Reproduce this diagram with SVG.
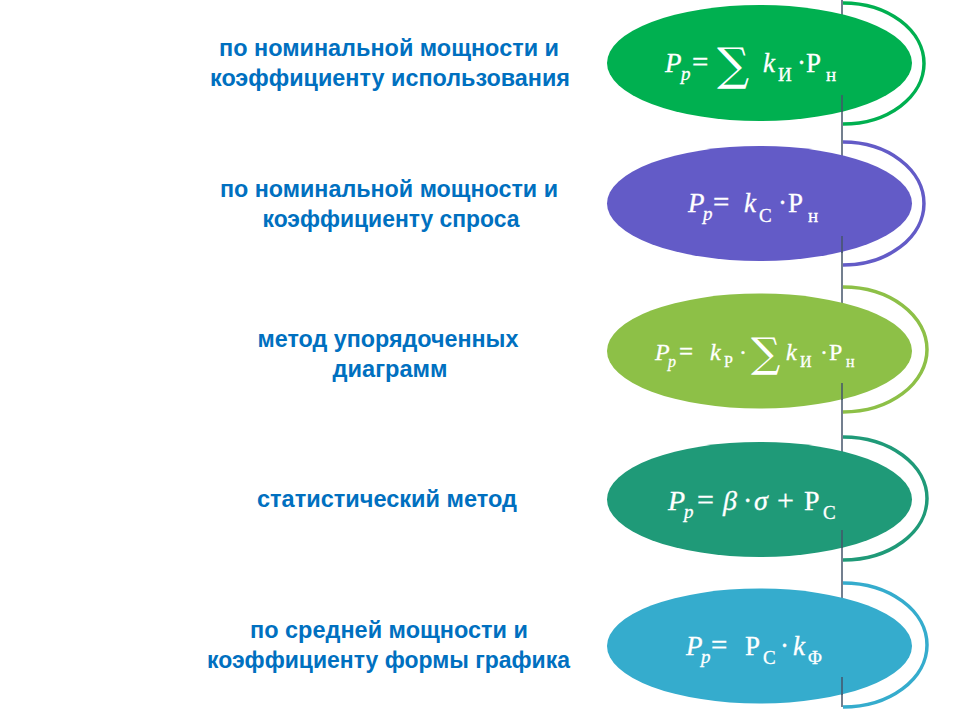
<svg xmlns="http://www.w3.org/2000/svg" width="960" height="720" viewBox="0 0 960 720">
<style>
.lbl{font-family:"Liberation Sans","DejaVu Sans",sans-serif;font-weight:bold;font-size:23px;fill:#0070C0;text-anchor:middle}
.f{font-family:"Liberation Serif","DejaVu Serif",serif;fill:#FFFFFF;stroke:#FFFFFF;stroke-width:0.3;font-size:27px}
.i{font-style:italic}
.s{font-size:19px}
.sum{font-family:"DejaVu Serif","Liberation Serif",serif;fill:#FFFFFF}
.arc{fill:none;stroke-width:3.5}
.ln{stroke:#44546A;stroke-width:1.5}
</style>
<rect width="960" height="720" fill="#FFFFFF"/>

<g id="connectors">
<line class="ln" x1="842" y1="0" x2="842" y2="707"/>
</g>

<g id="node1">
<path class="arc" stroke="#00B050" d="M843 3 A81 60.5 0 0 1 843 124"/>
<ellipse cx="759.5" cy="63" rx="152.5" ry="58" fill="#00B050"/>
<text class="lbl" x="389" y="56" textLength="340" lengthAdjust="spacingAndGlyphs">по номинальной мощности и</text>
<text class="lbl" x="390" y="86" textLength="360" lengthAdjust="spacingAndGlyphs">коэффициенту использования</text>
<text class="f"><tspan class="i" x="665" y="72">P</tspan><tspan class="i s" x="681" y="80">p</tspan><tspan x="692" y="72" font-size="29">=</tspan><tspan class="i" x="763" y="72">k</tspan><tspan class="s" x="778" y="81">И</tspan><tspan x="797" y="72">·</tspan><tspan x="806" y="72">Р</tspan><tspan class="s" x="826" y="81">н</tspan></text>
<text class="sum" x="717" y="80" font-size="45">∑</text>
</g>

<g id="node2">
<path class="arc" stroke="#635BC7" d="M843 142 A81 61.5 0 0 1 843 265"/>
<ellipse cx="759.5" cy="203.5" rx="152.5" ry="57.5" fill="#635BC7"/>
<text class="lbl" x="389" y="196.5" textLength="338" lengthAdjust="spacingAndGlyphs">по номинальной мощности и</text>
<text class="lbl" x="391" y="226.5" textLength="257" lengthAdjust="spacingAndGlyphs">коэффициенту спроса</text>
<text class="f"><tspan class="i" x="688" y="212">P</tspan><tspan class="i s" x="703" y="220">p</tspan><tspan x="713" y="212" font-size="29">=</tspan><tspan class="i" x="744" y="212">k</tspan><tspan class="s" x="759" y="221.5">С</tspan><tspan x="778" y="212">·</tspan><tspan x="788" y="212">Р</tspan><tspan class="s" x="808" y="221.5">н</tspan></text>
</g>

<g id="node3">
<path class="arc" stroke="#8DC047" d="M843 287 A84 62.5 0 0 1 843 412"/>
<ellipse cx="759.5" cy="351" rx="152.5" ry="57.5" fill="#8DC047"/>
<text class="lbl" x="388" y="346.5" textLength="261" lengthAdjust="spacingAndGlyphs">метод упорядоченных</text>
<text class="lbl" x="390" y="376.5" textLength="115" lengthAdjust="spacingAndGlyphs">диаграмм</text>
<text class="f" font-size="24"><tspan class="i" x="655" y="360" font-size="24">P</tspan><tspan class="i" x="668" y="367" font-size="16">p</tspan><tspan x="679" y="360" font-size="25">=</tspan><tspan class="i" x="710" y="360" font-size="24">k</tspan><tspan x="724" y="367" font-size="16">Р</tspan><tspan x="739" y="360" font-size="24">·</tspan><tspan class="i" x="786" y="360" font-size="24">k</tspan><tspan x="800" y="367" font-size="16">И</tspan><tspan x="820" y="360" font-size="24">·</tspan><tspan x="829" y="360" font-size="24">Р</tspan><tspan x="846" y="367" font-size="16">н</tspan></text>
<text class="sum" x="751" y="367" font-size="41">∑</text>
</g>

<g id="node4">
<path class="arc" stroke="#1F9A78" d="M843 437 A84 61.5 0 0 1 843 560"/>
<ellipse cx="759.5" cy="499.5" rx="152.5" ry="57.5" fill="#1F9A78"/>
<text class="lbl" x="387" y="507" textLength="260" lengthAdjust="spacingAndGlyphs">статистический метод</text>
<text class="f" font-size="28"><tspan class="i" x="668" y="510" font-size="28">P</tspan><tspan class="i s" x="684" y="518">p</tspan><tspan x="697" y="510" font-size="30">=</tspan><tspan class="i" x="723" y="510" font-size="28">β</tspan><tspan x="743" y="510" font-size="28">·</tspan><tspan class="i" x="754" y="510" font-size="28">σ</tspan><tspan x="777" y="510" font-size="30">+</tspan><tspan x="804" y="510" font-size="28">Р</tspan><tspan class="s" x="823" y="519">С</tspan></text>
</g>

<g id="node5">
<path class="arc" stroke="#35ACCD" d="M843 583 A84 62 0 0 1 843 707"/>
<ellipse cx="759.5" cy="646" rx="152.5" ry="57.5" fill="#35ACCD"/>
<text class="lbl" x="389" y="638" textLength="278" lengthAdjust="spacingAndGlyphs">по средней мощности и</text>
<text class="lbl" x="388.5" y="667.5" textLength="363" lengthAdjust="spacingAndGlyphs">коэффициенту формы графика</text>
<text class="f"><tspan class="i" x="686" y="655">P</tspan><tspan class="i s" x="701" y="663">p</tspan><tspan x="711" y="655" font-size="29">=</tspan><tspan x="745" y="655">Р</tspan><tspan class="s" x="763" y="664">С</tspan><tspan x="780" y="655">·</tspan><tspan class="i" x="793" y="655">k</tspan><tspan class="s" x="808" y="664">Φ</tspan></text>
</g>

<g id="connectors-over">
<line class="ln" x1="842" y1="95" x2="842" y2="112"/>
<line class="ln" x1="842" y1="236" x2="842" y2="253"/>
<line class="ln" x1="842" y1="383" x2="842" y2="400"/>
<line class="ln" x1="842" y1="530" x2="842" y2="548"/>
<line class="ln" x1="842" y1="677" x2="842" y2="695"/>
</g>
</svg>
